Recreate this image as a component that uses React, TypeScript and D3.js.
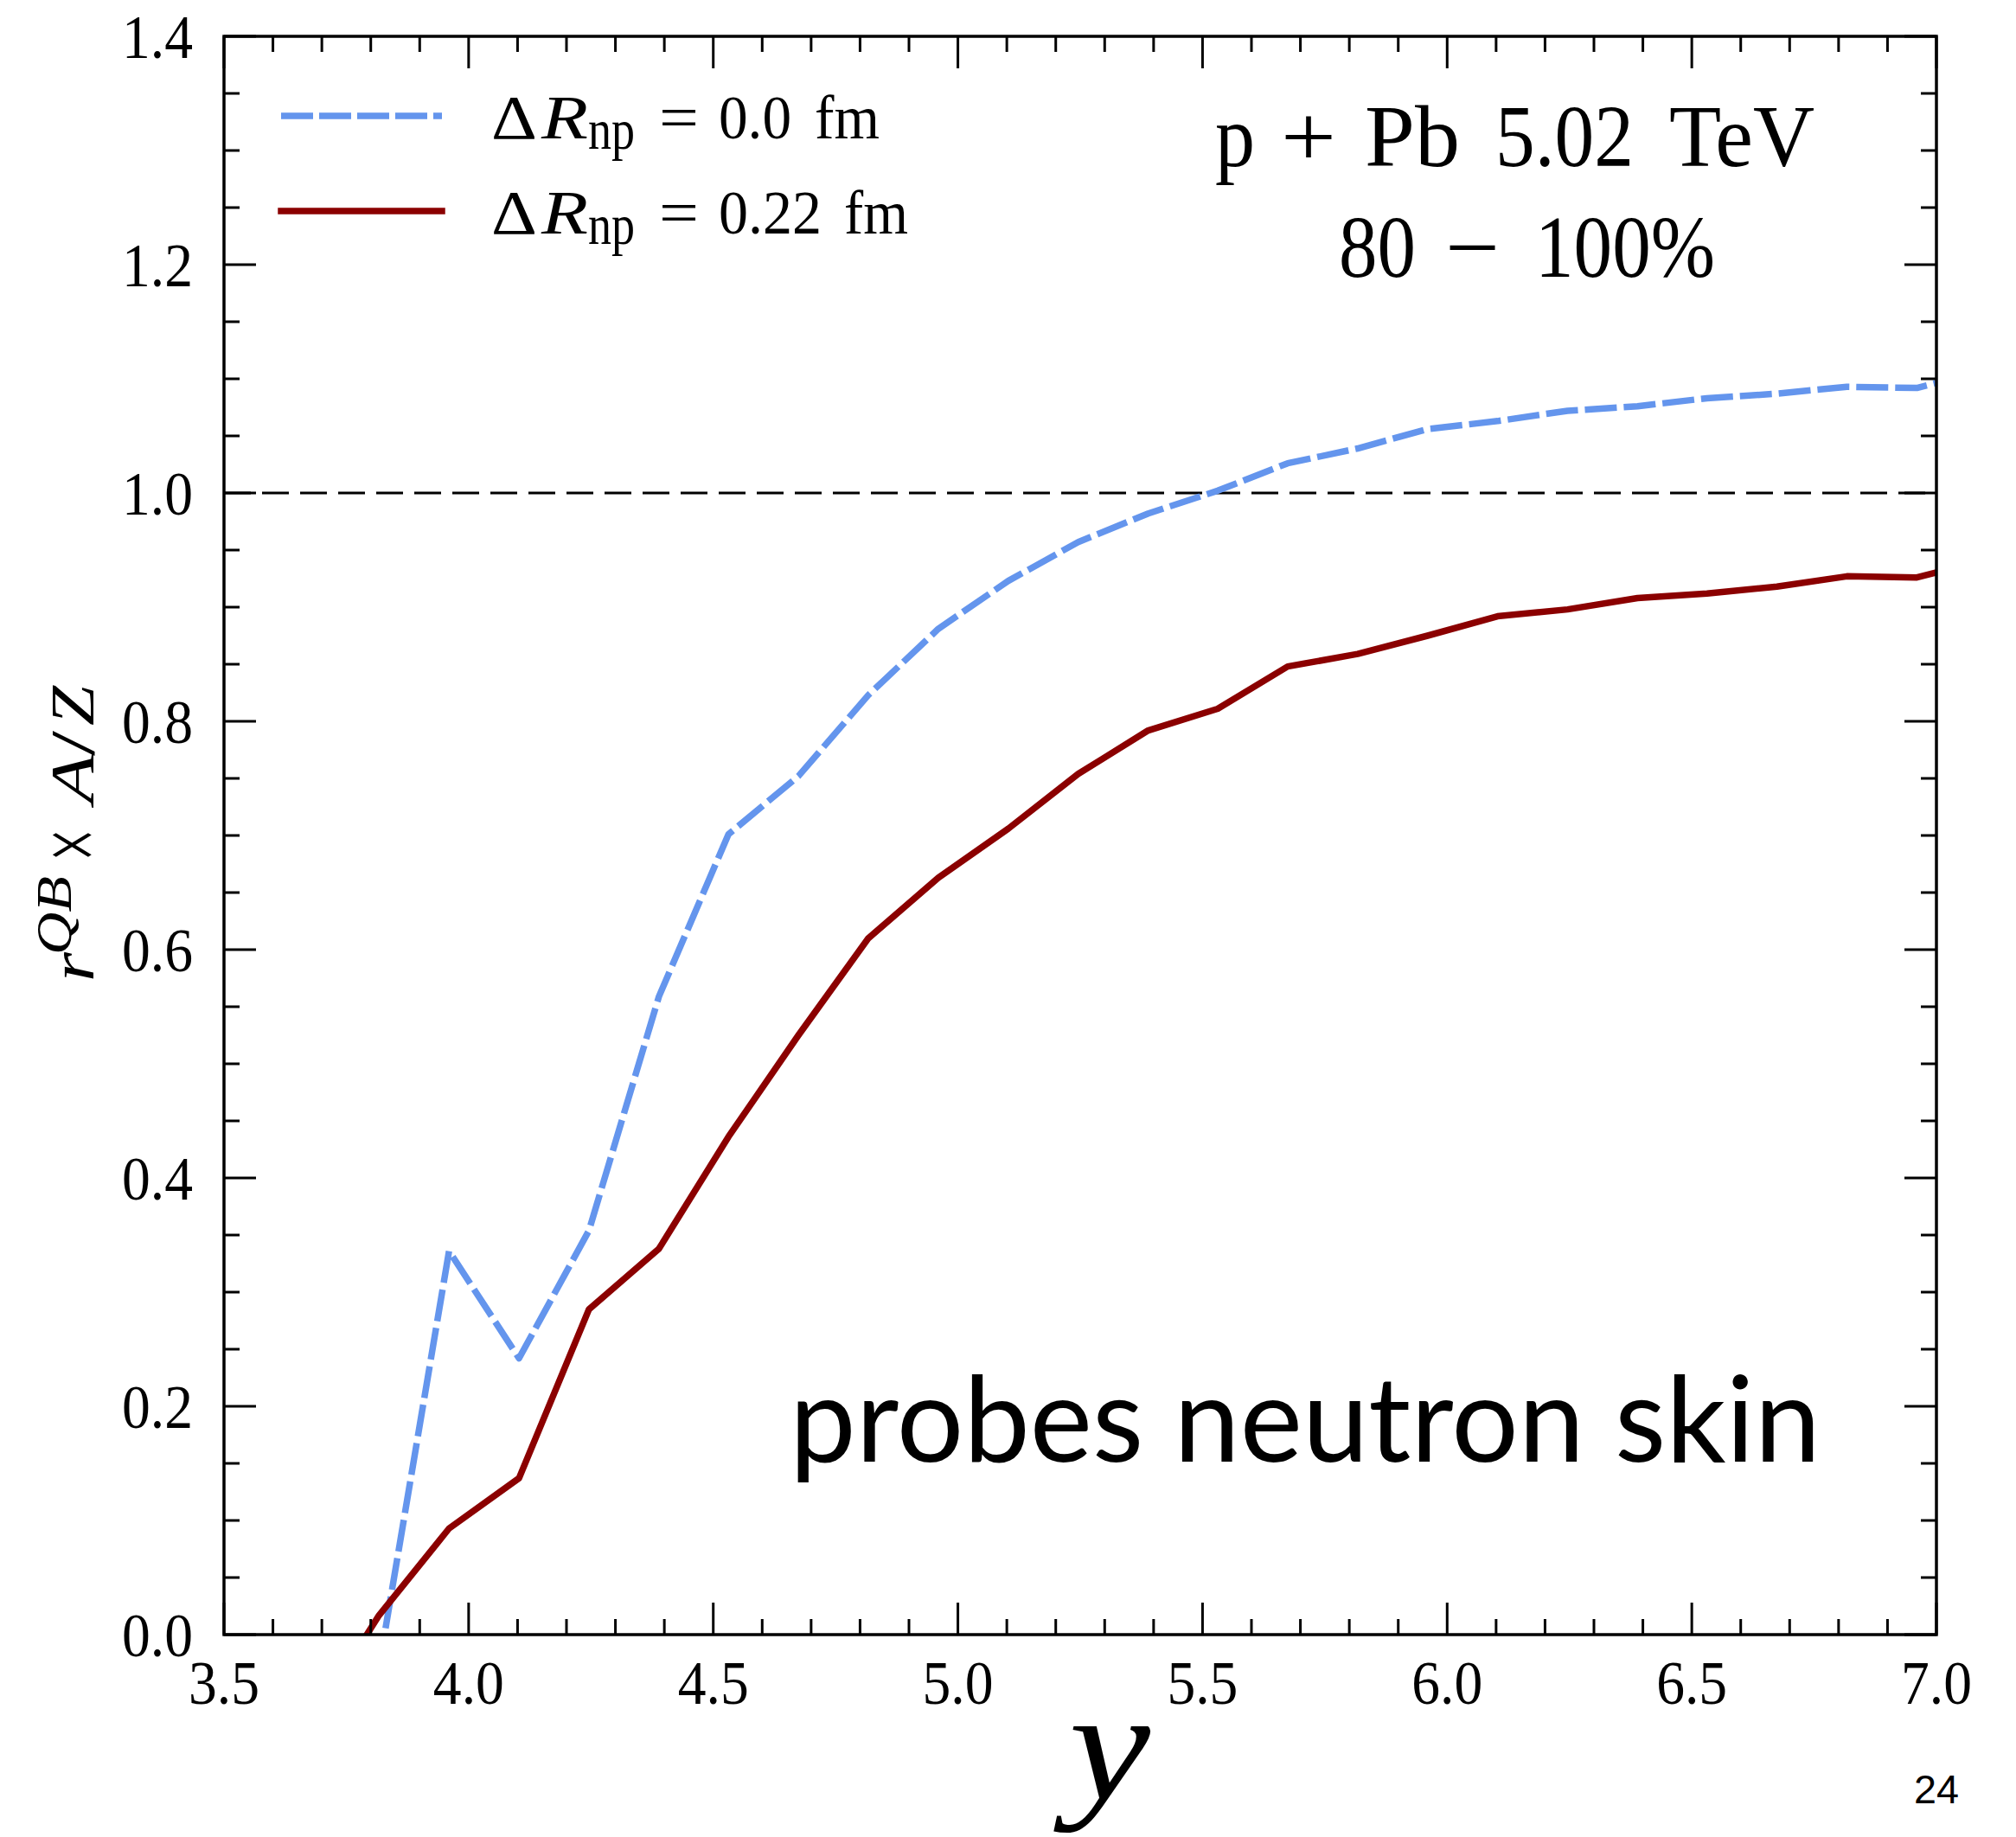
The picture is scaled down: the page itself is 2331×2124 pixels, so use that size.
import React from "react";
import * as d3 from "d3";

// ---- data ----
const rapidity = [3.674, 3.817, 3.96, 4.103, 4.246, 4.389, 4.531, 4.674, 4.817, 4.96, 5.103, 5.246, 5.389, 5.531, 5.674, 5.817, 5.96, 6.103, 6.246, 6.389, 6.531, 6.674, 6.817, 6.96, 7.103];
const ratioNoSkin: (number | null)[] = [null, -0.028, 0.336, 0.242, 0.354, 0.559, 0.701, 0.752, 0.823, 0.881, 0.923, 0.957, 0.982, 1.002, 1.026, 1.039, 1.056, 1.063, 1.072, 1.076, 1.083, 1.087, 1.093, 1.092, 1.108];
const ratioSkin: (number | null)[] = [-0.08, 0.017, 0.093, 0.137, 0.285, 0.338, 0.436, 0.525, 0.61, 0.663, 0.706, 0.754, 0.792, 0.811, 0.848, 0.859, 0.875, 0.892, 0.898, 0.908, 0.912, 0.918, 0.927, 0.926, 0.942];

const xMajorTicks = [3.5, 4.0, 4.5, 5.0, 5.5, 6.0, 6.5, 7.0];
const xTickLabels = ["3.5", "4.0", "4.5", "5.0", "5.5", "6.0", "6.5", "7.0"];
const yMajorTicks = [0, 0.2, 0.4, 0.6, 0.8, 1.0, 1.2, 1.4];
const yTickLabels = ["0.0", "0.2", "0.4", "0.6", "0.8", "1.0", "1.2", "1.4"];

const W = 2331;
const H = 2124;
const L = 259, R = 2239, T = 42, B = 1890;

const SERIF = "'Liberation Serif', 'Times New Roman', serif";

function Txt(props: any) {
  const { x, y, w, size, italic, children, font, anchor, weight } = props;
  return (
    <text
      x={x}
      y={y}
      fontSize={size}
      fontFamily={font || SERIF}
      fontStyle={italic ? "italic" : "normal"}
      fontWeight={weight || 400}
      textLength={w}
      lengthAdjust="spacingAndGlyphs"
      textAnchor={anchor || "start"}
      fill="#000"
    >
      {children}
    </text>
  );
}

export default function App() {
  const x = d3.scaleLinear().domain([3.5, 7.0]).range([L, R]);
  const y = d3.scaleLinear().domain([0, 1.4]).range([B, T]);

  const xMinor = d3.range(35, 71, 1).map((v) => v / 10).filter((v) => Math.abs(v * 2 - Math.round(v * 2)) > 1e-6);
  const yMinor = d3.range(0, 29, 1).map((v) => v * 0.05).filter((v) => Math.abs(v * 5 - Math.round(v * 5)) > 1e-6);

  const line = d3
    .line<[number, number | null]>()
    .defined((d) => d[1] !== null)
    .x((d) => x(d[0]))
    .y((d) => y(d[1] as number));

  const bluePath = line(rapidity.map((r, i) => [r, ratioNoSkin[i]]));
  const redPath = line(rapidity.map((r, i) => [r, ratioSkin[i]]));

  const majLen = 37, minLen = 18;

  return (
    <svg
      width={W}
      height={H}
      viewBox={`0 0 ${W} ${H}`}
      style={{ position: "absolute", left: 0, top: 0, background: "#fff" }}
    >
      <rect x={0} y={0} width={W} height={H} fill="#fff" />
      <defs>
        <clipPath id="plotclip">
          <rect x={L} y={T} width={R - L} height={B - T} />
        </clipPath>
      </defs>

      {/* reference line at 1 */}
      <line x1={L} x2={R} y1={y(1)} y2={y(1)} stroke="#000" strokeWidth={3} strokeDasharray="31,13" />

      <g clipPath="url(#plotclip)">
        <path d={bluePath || ""} fill="none" stroke="#6495ED" strokeWidth={7.5} strokeDasharray="37,8" strokeLinejoin="round" />
        <path d={redPath || ""} fill="none" stroke="#8B0000" strokeWidth={7.5} strokeLinejoin="round" />
      </g>

      {/* ticks */}
      <g stroke="#000" strokeWidth={3}>
        {xMajorTicks.map((v) => (
          <g key={"xM" + v}>
            <line x1={x(v)} x2={x(v)} y1={B} y2={B - majLen} />
            <line x1={x(v)} x2={x(v)} y1={T} y2={T + majLen} />
          </g>
        ))}
        {xMinor.map((v) => (
          <g key={"xm" + v}>
            <line x1={x(v)} x2={x(v)} y1={B} y2={B - minLen} />
            <line x1={x(v)} x2={x(v)} y1={T} y2={T + minLen} />
          </g>
        ))}
        {yMajorTicks.map((v) => (
          <g key={"yM" + v}>
            <line x1={L} x2={L + majLen} y1={y(v)} y2={y(v)} />
            <line x1={R} x2={R - majLen} y1={y(v)} y2={y(v)} />
          </g>
        ))}
        {yMinor.map((v) => (
          <g key={"ym" + v}>
            <line x1={L} x2={L + minLen} y1={y(v)} y2={y(v)} />
            <line x1={R} x2={R - minLen} y1={y(v)} y2={y(v)} />
          </g>
        ))}
      </g>

      {/* frame */}
      <rect x={L} y={T} width={R - L} height={B - T} fill="none" stroke="#000" strokeWidth={3.5} />

      {/* tick labels */}
      {xMajorTicks.map((v, i) => (
        <Txt key={"xl" + v} x={x(v) - 41} y={1970} w={82} size={72}>
          {xTickLabels[i]}
        </Txt>
      ))}
      {yMajorTicks.map((v, i) => (
        <Txt key={"yl" + v} x={141} y={y(v) + 25} w={82} size={72}>
          {yTickLabels[i]}
        </Txt>
      ))}

      {/* x-axis label */}
      <Txt x={1236} y={2080} w={94} size={182} italic>
        y
      </Txt>

      {/* y-axis label (rotated) */}
      <g transform="translate(108,1137) rotate(-90)">
        <Txt x={2} y={0} w={34} size={72} italic>r</Txt>
        <Txt x={33} y={-26} w={91} size={56} italic>QB</Txt>
        <Txt x={141} y={12} w={38} size={110}>×</Txt>
        <Txt x={208} y={0} w={57} size={72} italic>A</Txt>
        <Txt x={263} y={0} w={29} size={72}>/</Txt>
        <Txt x={298} y={0} w={46} size={72} italic>Z</Txt>
      </g>

      {/* legend */}
      <line x1={325} x2={511} y1={134} y2={134} stroke="#6495ED" strokeWidth={7.5} strokeDasharray="37,7" />
      <line x1={325} x2={511} y1={244} y2={244} stroke="#8B0000" strokeWidth={7.5} strokeLinecap="square" />

      <Txt x={568} y={160} w={53} size={72}>Δ</Txt>
      <Txt x={626} y={160} w={54} size={72} italic>R</Txt>
      <Txt x={680} y={172} w={54} size={66}>np</Txt>
      <Txt x={762} y={160} w={46} size={72}>=</Txt>
      <Txt x={831} y={160} w={84} size={72}>0.0</Txt>
      <Txt x={942} y={160} w={75} size={72}>fm</Txt>

      <Txt x={568} y={270} w={53} size={72}>Δ</Txt>
      <Txt x={626} y={270} w={54} size={72} italic>R</Txt>
      <Txt x={680} y={282} w={54} size={66}>np</Txt>
      <Txt x={762} y={270} w={46} size={72}>=</Txt>
      <Txt x={831} y={270} w={119} size={72}>0.22</Txt>
      <Txt x={976} y={270} w={74} size={72}>fm</Txt>

      {/* collision system annotation */}
      <Txt x={1405} y={192} w={46} size={102}>p</Txt>
      <Txt x={1481} y={192} w={64} size={102}>+</Txt>
      <Txt x={1578} y={192} w={110} size={102}>Pb</Txt>
      <Txt x={1729} y={192} w={160} size={102}>5.02</Txt>
      <Txt x={1930} y={192} w={168} size={102}>TeV</Txt>

      <Txt x={1548} y={320} w={89} size={102}>80</Txt>
      <Txt x={1671} y={320} w={63} size={102}>−</Txt>
      <Txt x={1775} y={320} w={208} size={102}>100%</Txt>

      {/* annotation */}
      <Txt x={913} y={1690} w={1192} size={138} weight={400} font="Lato, 'Open Sans', sans-serif">
        probes neutron skin
      </Txt>

      {/* page number */}
      <Txt x={2213} y={2085} w={52} size={46} font="'Liberation Sans', Arial, sans-serif">
        24
      </Txt>
    </svg>
  );
}
